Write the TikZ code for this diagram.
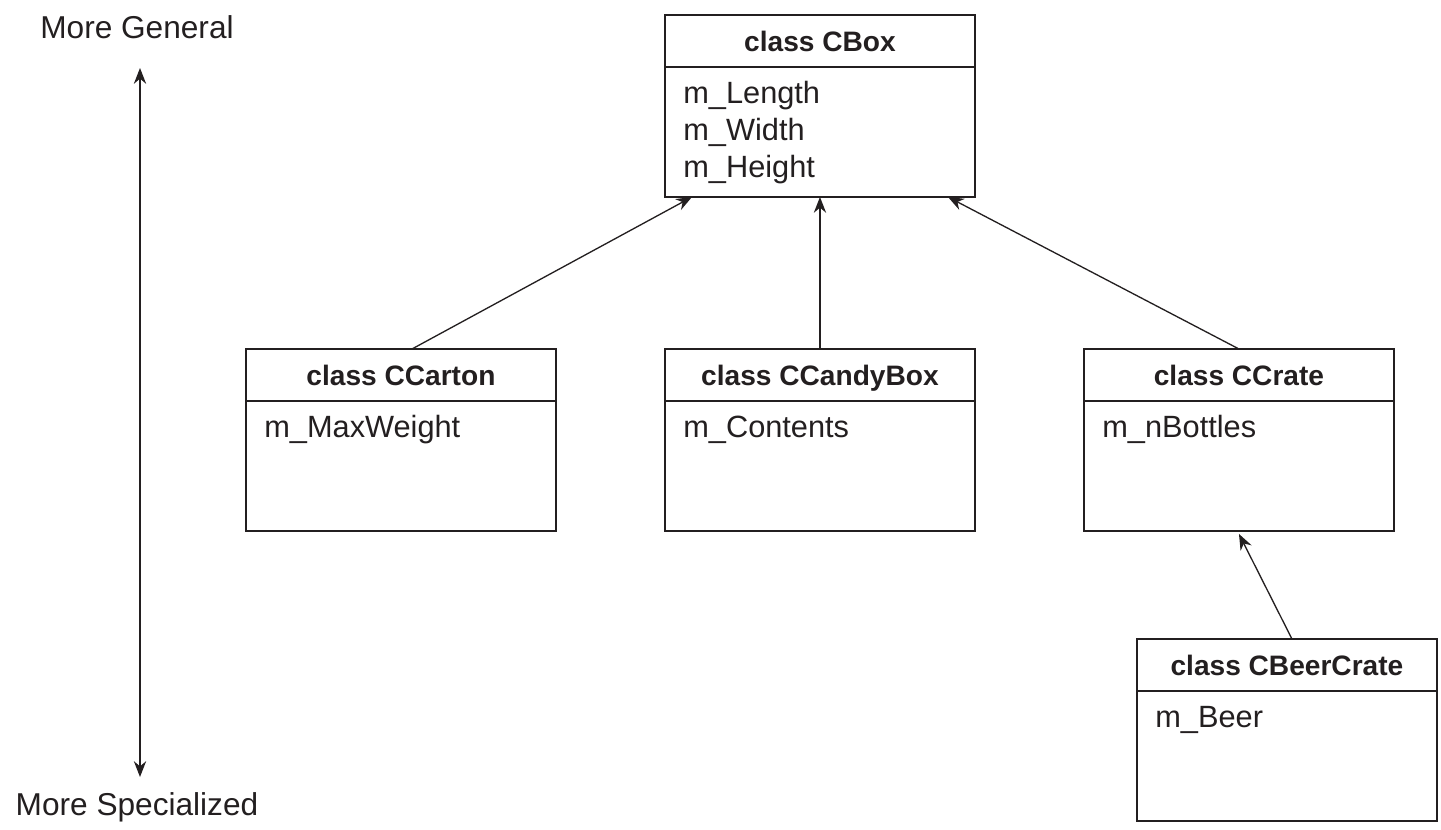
\documentclass[tikz,border=0pt]{standalone}
\usepackage{fontspec}
\setmainfont{Liberation Sans}
\usepackage{xcolor}
\usetikzlibrary{arrows.meta}
\usetikzlibrary{positioning}
\definecolor{inkgray}{HTML}{231F20}

\begin{document}
\begin{tikzpicture}[x=0.02cm, y=-0.02cm, color=inkgray,
    classhead/.style={draw, line width=0.8pt, anchor=north west, inner sep=0pt, outer sep=0pt,
      minimum width=\figclasswidth, minimum height=\figclassheadheight,
      text height=11.5pt, text depth=0pt, font=\fontsize{16}{19}\selectfont\bfseries},
    classbody/.style={draw, line width=0.8pt, inner sep=0pt, outer sep=0pt,
      minimum width=\figclasswidth, minimum height=\figclassbodyheight},
    members/.style={anchor=base west, inner sep=0pt, text width=5.4cm, align=left,
      font=\fontsize{17.5}{21}\selectfont},
    inherit/.style={line width=0.75pt, -{Stealth[length=9pt, width=7pt]}},
    scalelabel/.style={anchor=base, inner sep=0pt, font=\fontsize{18}{21}\selectfont}]
        \newcommand{\figclasswidth}{6.2cm}
        \newcommand{\figclassheadheight}{1.04cm}
        \newcommand{\figclassbodyheight}{2.6cm}
        \newcommand{\figmemberxoff}{0.36cm}
        \newcommand{\figmemberyoff}{-0.74cm}
        \useasboundingbox (0,0) rectangle (1441,829);
        % general / specialized scale
        \node[scalelabel] (general) at (137,38) {More General};
        \node[scalelabel] (special) at (137,815) {More Specialized};
        \coordinate (scaletop) at (140,68);
        \coordinate (scalebottom) at (140,777);
        \draw[line width=0.75pt, {Stealth[length=9pt, width=7pt]}-{Stealth[length=9pt, width=7pt]}] (scaletop) -- (scalebottom);
        % base class
        \node[classhead] (cboxhead) at (665,15) {class CBox};
        \node[classbody, below=0pt of cboxhead] (cboxbody) {};
        \node[members] (cboxmem) at ([xshift=\figmemberxoff, yshift=\figmemberyoff]cboxbody.north west) {m\_Length\\m\_Width\\m\_Height};
        % derived classes
        \node[classhead] (cartonhead) at (246,349) {class CCarton};
        \node[classbody, below=0pt of cartonhead] (cartonbody) {};
        \node[members] (cartonmem) at ([xshift=\figmemberxoff, yshift=\figmemberyoff]cartonbody.north west) {m\_MaxWeight};
        \node[classhead] (candyhead) at (665,349) {class CCandyBox};
        \node[classbody, below=0pt of candyhead] (candybody) {};
        \node[members] (candymem) at ([xshift=\figmemberxoff, yshift=\figmemberyoff]candybody.north west) {m\_Contents};
        \node[classhead] (cratehead) at (1084,349) {class CCrate};
        \node[classbody, below=0pt of cratehead] (cratebody) {};
        \node[members] (cratemem) at ([xshift=\figmemberxoff, yshift=\figmemberyoff]cratebody.north west) {m\_nBottles};
        % second level
        \node[classhead, minimum width=6.0cm] (beerhead) at (1137,639) {class CBeerCrate};
        \node[classbody, minimum width=6.0cm, below=0pt of beerhead] (beerbody) {};
        \node[members] (beermem) at ([xshift=\figmemberxoff, yshift=\figmemberyoff]beerbody.north west) {m\_Beer};
        % inheritance arrows
        \draw[inherit] ([xshift=0.22cm]cartonhead.north) -- ([xshift=0.54cm]cboxbody.south west);
        \draw[inherit] (candyhead.north) -- (cboxbody.south);
        \draw[inherit] (cratehead.north) -- ([xshift=-0.54cm]cboxbody.south east);
        \draw[inherit] ([xshift=0.1cm]beerhead.north) -- ([yshift=-0.06cm]cratebody.south);
    \end{tikzpicture}
\end{document}
